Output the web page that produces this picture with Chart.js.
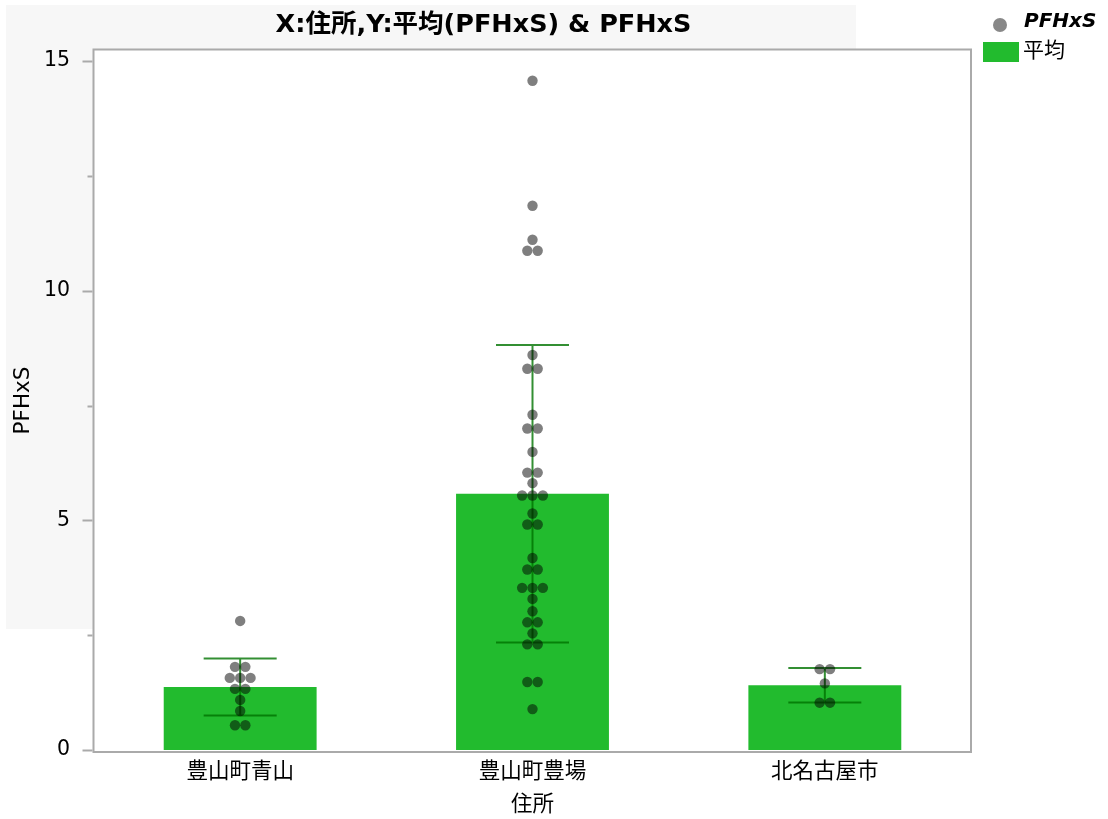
<!DOCTYPE html>
<html>
<head>
<meta charset="utf-8">
<script src="https://cdn.jsdelivr.net/npm/chart.js@4.4.1/dist/chart.umd.min.js"></script>
<style>
  html, body { margin: 0; padding: 0; background: #ffffff; }
  #wrap { width: 1108px; height: 819px; position: relative; }
</style>
</head>
<body>
<div id="wrap"><canvas id="c" width="1108" height="819"></canvas></div>
<script>
// Categories (住所) and per-group summary values
const categories = ['豊山町青山', '豊山町豊場', '北名古屋市'];
const meanValues = [1.37, 5.58, 1.41];   // 平均(PFHxS)
const sdValues = [0.62, 3.24, 0.375];    // error bar half-length

// Individual PFHxS measurements per 住所
const aoyamaValues = [2.81, 1.81, 1.81, 1.57, 1.57, 1.57, 1.33, 1.33, 1.09, 0.85, 0.54, 0.54];
const toyobaValues = [14.57, 11.85, 11.11, 10.87, 10.87, 8.60, 8.30, 8.30, 7.30, 7.00, 7.00,
  6.49, 6.04, 6.04, 5.81, 5.54, 5.54, 5.54, 5.15, 4.91, 4.91, 4.18, 3.93, 3.93,
  3.53, 3.53, 3.53, 3.29, 3.02, 2.78, 2.78, 2.54, 2.30, 2.30, 1.48, 1.48, 0.89];
const kitanagoyaValues = [1.76, 1.76, 1.45, 1.03, 1.03];

// Y axis tick values (labels only on multiples of 5)
const yTickValues = [0, 2.5, 5, 7.5, 10, 12.5, 15];

const BAR_COLOR = '#22bb2e';
const DOT_COLOR = 'rgba(0,0,0,0.5)';
const ERR_COLOR = 'rgba(0,115,0,0.8)';
const FRAME_COLOR = '#aaaaaa';
const DOT_STEP = 0.0355;      // horizontal spacing of tied points, in category units
const CAP_HALF = 36.5;        // half width of error bar caps, px
const FONT = '"DejaVu Sans", "Noto Sans CJK JP", sans-serif';

// Lay tied values side by side (simple beeswarm)
function swarm(values, catIndex) {
  const rows = new Map();
  values.forEach(v => {
    if (!rows.has(v)) rows.set(v, 0);
    rows.set(v, rows.get(v) + 1);
  });
  const pts = [];
  rows.forEach((n, v) => {
    for (let i = 0; i < n; i++) {
      pts.push({ x: catIndex + (i - (n - 1) / 2) * DOT_STEP, y: v });
    }
  });
  return pts;
}

const pointData = [
  ...swarm(aoyamaValues, 0),
  ...swarm(toyobaValues, 1),
  ...swarm(kitanagoyaValues, 2)
];

const decorPlugin = {
  id: 'decor',
  beforeDraw(chart) {
    const { ctx, chartArea: a } = chart;
    ctx.save();
    ctx.fillStyle = '#ffffff';
    ctx.fillRect(0, 0, chart.width, chart.height);
    ctx.fillStyle = '#f7f7f7';
    ctx.fillRect(6, 5, 850, 624);
    ctx.fillStyle = '#ffffff';
    ctx.fillRect(a.left, a.top, a.right - a.left, a.bottom - a.top);

    // Title
    ctx.fillStyle = '#000000';
    ctx.font = 'bold 25.5px "DejaVu Sans", "Noto Sans CJK JP", sans-serif';
    ctx.textAlign = 'center';
    ctx.textBaseline = 'middle';
    ctx.fillText('X:住所,Y:平均(PFHxS) & PFHxS', 483.5, 25);

    // Legend
    ctx.fillStyle = '#888888';
    ctx.beginPath();
    ctx.arc(1000, 25, 7, 0, Math.PI * 2);
    ctx.fill();
    ctx.fillStyle = '#000000';
    ctx.textAlign = 'left';
    ctx.font = 'italic bold 20px "DejaVu Sans", sans-serif';
    ctx.fillText(chart.data.datasets[1].label, 1024, 22);
    ctx.fillStyle = BAR_COLOR;
    ctx.fillRect(983, 42, 36, 20);
    ctx.fillStyle = '#000000';
    ctx.font = '21px "Noto Sans CJK JP", sans-serif';
    ctx.fillText(chart.data.datasets[0].label, 1023, 49);
    ctx.restore();
  },
  afterDatasetDraw(chart, args) {
    if (args.index !== 0) return;
    const { ctx } = chart;
    const xs = chart.scales.x, ys = chart.scales.y;
    ctx.save();
    ctx.strokeStyle = ERR_COLOR;
    ctx.lineWidth = 2;
    meanValues.forEach((m, i) => {
      const cx = xs.getPixelForValue(i);
      const yTop = ys.getPixelForValue(m + sdValues[i]);
      const yBot = ys.getPixelForValue(m - sdValues[i]);
      ctx.beginPath();
      ctx.moveTo(cx, yTop);
      ctx.lineTo(cx, yBot);
      ctx.moveTo(cx - CAP_HALF, yTop);
      ctx.lineTo(cx + CAP_HALF, yTop);
      ctx.moveTo(cx - CAP_HALF, yBot);
      ctx.lineTo(cx + CAP_HALF, yBot);
      ctx.stroke();
    });
    ctx.restore();
  },
  afterDraw(chart) {
    const { ctx, chartArea: a } = chart;
    const ys = chart.scales.y;
    ctx.save();
    ctx.strokeStyle = FRAME_COLOR;
    ctx.lineWidth = 2;
    ctx.strokeRect(a.left - 0.5, a.top + 0.5, a.right - a.left + 0.5, a.bottom - a.top - 0.5);
    // y tick marks: long on labelled values, short in between
    yTickValues.forEach(v => {
      const y = Math.round(ys.getPixelForValue(v)) + 0.5;
      const len = v % 5 === 0 ? 10 : 5;
      ctx.beginPath();
      ctx.moveTo(a.left - 1.5 - len, y);
      ctx.lineTo(a.left - 1.5, y);
      ctx.stroke();
    });
    ctx.restore();
  }
};

new Chart(document.getElementById('c'), {
  type: 'bar',
  data: {
    labels: categories,
    datasets: [
      {
        type: 'bar',
        label: '平均',
        data: meanValues,
        backgroundColor: BAR_COLOR,
        borderWidth: 0,
        grouped: false,
        barPercentage: 0.523,
        categoryPercentage: 1.0,
        xAxisID: 'x',
        yAxisID: 'y',
        order: 2
      },
      {
        type: 'scatter',
        label: 'PFHxS',
        data: pointData,
        backgroundColor: DOT_COLOR,
        borderWidth: 0,
        pointRadius: 5.2,
        pointHoverRadius: 5.2,
        xAxisID: 'xp',
        yAxisID: 'y',
        order: 1
      }
    ]
  },
  options: {
    responsive: false,
    animation: false,
    events: [],
    layout: { padding: { top: 49, right: 137, left: 0, bottom: 0 } },
    plugins: {
      legend: { display: false },
      title: { display: false },
      tooltip: { enabled: false }
    },
    scales: {
      x: {
        type: 'category',
        offset: true,
        grid: { display: false, drawTicks: false },
        border: { display: false },
        ticks: { color: '#000000', font: { family: FONT, size: 21.5 }, padding: 8, maxRotation: 0 },
        title: {
          display: true, text: '住所', color: '#000000',
          font: { family: FONT, size: 21.5 }, padding: { top: 0, bottom: 1 }
        },
        afterFit(s) { s.height = 67; }
      },
      xp: { type: 'linear', min: -0.5, max: 2.5, offset: false, display: false },
      y: {
        type: 'linear',
        min: -0.0435,
        max: 15.262,
        afterBuildTicks(s) { s.ticks = yTickValues.map(v => ({ value: v })); },
        grid: { display: false, drawTicks: false },
        border: { display: false },
        ticks: {
          color: '#000000',
          font: { family: FONT, size: 20.5 },
          padding: 24,
          callback: v => (v % 5 === 0 ? String(v) : '')
        },
        title: {
          display: true, text: 'PFHxS', color: '#000000',
          font: { family: FONT, size: 21.5 }, padding: { top: 11, bottom: 0 }
        },
        afterFit(s) { s.width = 94; }
      }
    }
  },
  plugins: [decorPlugin]
});
</script>
</body>
</html>
